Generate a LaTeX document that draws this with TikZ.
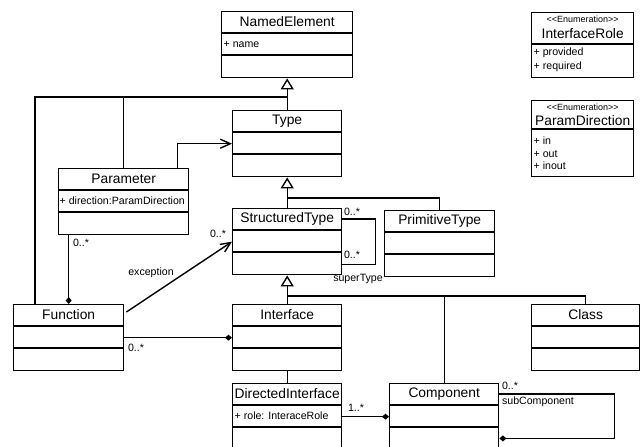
\documentclass[tikz,border=0pt]{standalone}
\usepackage{fontspec}
\setmainfont{Liberation Sans}
\usetikzlibrary{arrows.meta,positioning}
\newcommand{\enumst}{<\kern0pt<Enumeration>\kern0pt>}
\tikzset{
  umlclass/.style={draw, anchor=north west, inner sep=0pt, minimum height=66pt},
  ctitle/.style={font=\fontsize{13.8}{16}\selectfont, inner sep=0pt},
  cattr/.style={font=\fontsize{10.6}{12}\selectfont, anchor=west, inner sep=0pt},
  stereo/.style={font=\fontsize{9}{10}\selectfont, inner sep=0pt},
  mult/.style={font=\fontsize{10.6}{12}\selectfont, inner sep=0pt},
  gen/.style={-{Triangle[open,length=11pt,width=13pt]}},
  nav/.style={-{Straight Barb[length=10pt,width=9pt]}},
  owned/.style={-{Diamond[length=7pt,width=6pt]}},
}

\begin{document}
\begin{tikzpicture}[x=1pt, y=-1pt, line width=1.4pt]
  \useasboundingbox (0,0) rectangle (640,447);

  % classes
  \foreach \id/\x/\y/\w/\title in
  {
    namedEl/221/11/131/NamedElement,
    type/232/110/109/Type,
    structType/232/208/109/StructuredType,
    primType/384/210/110/PrimitiveType,
    param/58/168/130/Parameter,
    func/13/304/110/Function,
    iface/232/304/109/Interface,
    cls/531/304/108/Class,
    dirIface/232/383/109/DirectedInterface,
    comp/389/383/109/Component
  }
  {
    \node[umlclass, minimum width=\w pt] (\id) at (\x,\y) {};
    \draw ([yshift=-22pt]\id.north west) -- ([yshift=-22pt]\id.north east);
    \draw ([yshift=-44pt]\id.north west) -- ([yshift=-44pt]\id.north east);
    \node[ctitle] (\id-t) at ([yshift=-11pt]\id.north) {\title};
  }
  \node[cattr] (namedEl-a) at (223,44) {+ name};
  \node[cattr] (param-a) at (59,201) {+ direction:ParamDirection};
  \node[cattr] (dirIface-a) at (234,416) {+ role: InteraceRole};

  % enumerations
  \node[umlclass, minimum width=102pt, minimum height=65pt] (ifaceRole) at (531,12) {};
  \draw ([yshift=-32pt]ifaceRole.north west) -- ([yshift=-32pt]ifaceRole.north east);
  \node[stereo] (ifaceRole-s) at ([yshift=-7pt]ifaceRole.north) {\enumst};
  \node[ctitle] (ifaceRole-t) at ([yshift=-22pt]ifaceRole.north) {InterfaceRole};
  \node[cattr] (ifaceRole-a1) at (533,53) {+ provided};
  \node[cattr] (ifaceRole-a2) at (533,67) {+ required};

  \node[umlclass, minimum width=102pt, minimum height=76pt] (paramDir) at (531,100) {};
  \draw ([yshift=-29pt]paramDir.north west) -- ([yshift=-29pt]paramDir.north east);
  \node[stereo] (paramDir-s) at ([yshift=-7pt]paramDir.north) {\enumst};
  \node[ctitle] (paramDir-t) at ([yshift=-21pt]paramDir.north) {ParamDirection};
  \node[cattr] (paramDir-a1) at (533,141) {+ in};
  \node[cattr] (paramDir-a2) at (533,154) {+ out};
  \node[cattr] (paramDir-a3) at (533,166) {+ inout};

  % generalisations
  \coordinate (jA) at (286.5,97);
  \coordinate (jB) at (286.5,198);
  \coordinate (jC) at (286.5,296);
  \draw[gen] (type.north) -- (namedEl.south);
  \draw (param.north) |- (jA);
  \draw ([xshift=22pt]func.north west) |- (jA);
  \draw[gen] (structType.north) -- (type.south);
  \draw (primType.north) |- (jB);
  \draw[gen] (iface.north) -- (structType.south);
  \draw (comp.north) |- (jC);
  \draw (cls.north) |- (jC);
  \draw (iface.south) -- (dirIface.north);

  % associations
  \draw[nav] ([xshift=-12pt]param.north east) |- (type.west);
  \draw[owned] (param.south -| func.north) -- (func.north);
  \draw[nav] ([shift={(2pt,-8pt)}]func.north east) -- (structType.west);
  \draw[owned] (func.east) -- (iface.west);
  \draw[owned] (dirIface.east) -- (comp.west);
  \draw ([yshift=-11pt]structType.north east) -- ++(33,0) |- ([yshift=11pt]structType.south east);
  \draw[owned] ([yshift=-11pt]comp.north east) -- ++(115,0) |- ([yshift=12pt]comp.south east);

  % role and multiplicity labels
  \node[mult] (m1) at (81,243) {0..*};
  \node[mult] (exLbl) at (151,273) {exception};
  \node[mult] (m2) at (218,234) {0..*};
  \node[mult] (m3) at (136,348) {0..*};
  \node[mult] (m4) at (356,408) {1..*};
  \node[mult] (m5) at (352,212) {0..*};
  \node[mult] (m6) at (352,255) {0..*};
  \node[mult] (superLbl) at (358,279) {superType};
  \node[mult] (m7) at (510,386) {0..*};
  \node[mult] (subLbl) at (538,402) {subComponent};
\end{tikzpicture}
\end{document}
